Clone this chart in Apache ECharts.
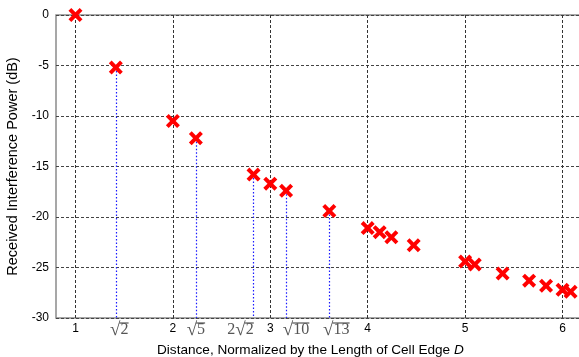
<!DOCTYPE html>
<html><head><meta charset="utf-8">
<script src="https://cdn.jsdelivr.net/npm/echarts@6/dist/echarts.min.js"></script>
<style>html,body{margin:0;padding:0;background:#fff}#c{width:579px;height:357px}</style>
</head><body><div id="c"></div>
<script>
// Normalized distance to each interfering cell and the received power in dB
const distances = [1, 1.414, 2, 2.236, 2.828, 3, 3.162, 3.606, 4, 4.123, 4.243, 4.472, 5, 5.099, 5.385, 5.657, 5.831, 6, 6.083];
const powerDb   = [0, -5.2, -10.5, -12.2, -15.8, -16.7, -17.4, -19.4, -21.1, -21.5, -22.0, -22.8, -24.4, -24.7, -25.6, -26.3, -26.8, -27.2, -27.4];

// Tick positions along the distance axis
const integerTicks = [1, 2, 3, 4, 5, 6];
const radicalTicks = [1.414, 2.236, 2.828, 3.162, 3.606];
const radicalLabels = ['√2', '√5', '2√2', '√10', '√13'];
const yTicks = [0, -5, -10, -15, -20, -25, -30];

const xMin = 0.8, xMax = 6.2;
const yMin = -30, yMax = 0;

// horizontal nudge (px) of each radical label so neighbours don't collide
const radicalNudge = [3.5, 0, -13, 10, 7];

const SERIF_FAMILY = '"Liberation Serif", "DejaVu Serif", serif';
const DIGIT_SIZE = 16, RADICAL_SIZE = 19;
const measureCtx = document.createElement('canvas').getContext('2d');
function textWidth(s, size) {
  measureCtx.font = size + 'px ' + SERIF_FAMILY;
  return measureCtx.measureText(s).width;
}

// X-shaped marker
const crossPath = 'path://M0,2 L2,0 L5,3 L8,0 L10,2 L7,5 L10,8 L8,10 L5,7 L2,10 L0,8 L3,5 Z';

// dotted drop lines from each radical-distance point down to the axis
const dropLines = radicalTicks.map(function (x) {
  const i = distances.indexOf(x);
  return [{ coord: [x, powerDb[i]] }, { coord: [x, yMin] }];
});

const labelValues = integerTicks.concat(radicalTicks).sort(function (a, b) { return a - b; });

// rich-text styles: a radical sign with a vinculum drawn over the radicand
const labelRich = {
  n: { fontFamily: 'Liberation Sans', fontSize: 12, lineHeight: 14, color: '#000' },
  r: { fontFamily: SERIF_FAMILY, fontSize: DIGIT_SIZE, lineHeight: 12, color: '#555' },
  rad: { fontFamily: SERIF_FAMILY, fontSize: RADICAL_SIZE, lineHeight: 12, color: '#555' }
};
const radicalParts = radicalLabels.map(function (lab) {
  const at = lab.indexOf('√');
  return { coef: lab.slice(0, at), radicand: lab.slice(at + 1) };
});
radicalParts.forEach(function (p, k) {
  const headW = textWidth(p.coef, DIGIT_SIZE) + textWidth('√', RADICAL_SIZE);
  labelRich['sp' + k] = { width: headW - 1, height: 2, lineHeight: 2, fontSize: 1 };
  labelRich['bar' + k] = { width: textWidth(p.radicand, DIGIT_SIZE) + 1, height: 0, lineHeight: 2, fontSize: 1,
                           borderColor: '#777', borderWidth: 1 };
  const nudge = radicalNudge[k];
  if (nudge !== 0) {
    labelRich['pad' + k] = { width: Math.abs(nudge) * 2, height: 1, lineHeight: 2, fontSize: 1 };
  }
});

function xLabel(v) {
  for (let k = 0; k < radicalTicks.length; k++) {
    if (Math.abs(radicalTicks[k] - v) < 1e-6) {
      const p = radicalParts[k], n = radicalNudge[k];
      const padL = n > 0 ? '{pad' + k + '|}' : '';
      const padR = n < 0 ? '{pad' + k + '|}' : '';
      const coef = p.coef ? '{r|' + p.coef + '}' : '';
      return padL + '{sp' + k + '|}{bar' + k + '|}' + padR + '\n' +
             padL + coef + '{rad|√}{r|' + p.radicand + '}' + padR;
    }
  }
  return '{n|' + Math.round(v) + '}';
}

const chart = echarts.init(document.getElementById('c'), null, { renderer: 'canvas' });
chart.setOption({
  animation: false,
  backgroundColor: '#fff',
  title: {
    text: 'Distance, Normalized by the Length of Cell Edge {i|D}',
    left: 152, top: 338,
    textStyle: {
      fontFamily: 'Liberation Sans', fontSize: 13.6, fontWeight: 'normal', color: '#000',
      rich: { i: { fontFamily: 'Liberation Sans', fontSize: 13.6, fontStyle: 'italic', color: '#000' } }
    }
  },
  grid: {
    left: 56, top: 15, right: -3, bottom: 39,
    outerBoundsMode: 'none',
    show: true, borderColor: '#8a8a8a', borderWidth: 1.5, backgroundColor: '#fff'
  },
  xAxis: {
    type: 'value', min: xMin, max: xMax,
    axisLine: { show: false },
    axisTick: { show: false, customValues: integerTicks },
    splitLine: { show: true, lineStyle: { color: '#333', width: 1, type: [3, 2] } },
    axisLabel: {
      customValues: labelValues,
      margin: 4,
      formatter: xLabel,
      rich: labelRich
    }
  },
  yAxis: {
    type: 'value', min: yMin, max: yMax, interval: 5,
    name: 'Received Interference Power (dB)',
    nameLocation: 'middle', nameGap: 27, nameRotate: 90,
    nameTextStyle: { fontFamily: 'Liberation Sans', fontSize: 14.5, color: '#000' },
    axisLine: { show: false },
    axisTick: { show: false },
    splitLine: { show: true, lineStyle: { color: '#444', width: 1, type: [3, 2] } },
    axisLabel: {
      margin: 7,
      fontFamily: 'Liberation Sans', fontSize: 12, color: '#000',
      formatter: function (v) { return yTicks.indexOf(v) >= 0 ? String(v) : ''; }
    }
  },
  series: [{
    type: 'scatter',
    data: distances.map(function (d, i) { return [d, powerDb[i]]; }),
    symbol: crossPath,
    symbolSize: 14,
    itemStyle: { color: '#ff0000', opacity: 1 },
    z: 5,
    markLine: {
      silent: true,
      symbol: ['none', 'none'],
      label: { show: false },
      lineStyle: { color: '#1a1aff', width: 1.2, type: [1.5, 2], opacity: 1 },
      data: dropLines,
      z: 2
    }
  }]
});
</script>
</body></html>
